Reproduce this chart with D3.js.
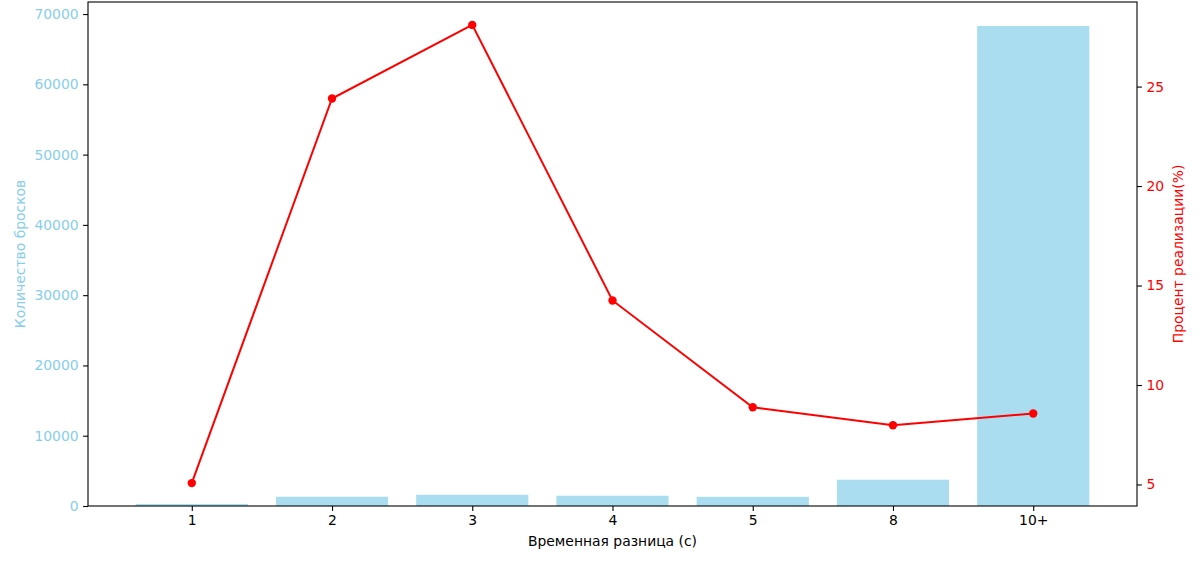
<!DOCTYPE html>
<head>
	<meta charset="utf-8">
	<script type="text/javascript" src="https://cdn.jsdelivr.net/npm/d3@7"></script>
	<style>
		body { margin: 0; background: #fff; }
		text { font-family: "DejaVu Sans", sans-serif; }
	</style>
</head>
<body>
	<script type="text/javascript">

	var categories = ['1', '2', '3', '4', '5', '8', '10+'];
	var shotCounts = [290, 1320, 1600, 1460, 1310, 3740, 68300];
	var hitPercent = [5.07, 24.4, 28.1, 14.25, 8.88, 7.98, 8.57];
	var leftTicks = [0, 10000, 20000, 30000, 40000, 50000, 60000, 70000];
	var rightTicks = [5, 10, 15, 20, 25];

	var w = 1200;
	var h = 564;
	var plotL = 88, plotR = 1137, plotT = 2, plotB = 506;

	var svg = d3.select("body")
	.append("svg")
	.attr("width", w)
	.attr("height", h);

	var xscale = d3.scaleLinear()
	.domain([-0.74, categories.length - 1 + 0.74])
	.range([plotL, plotR]);

	var yscale = d3.scaleLinear()
	.domain([0, d3.max(shotCounts) * 1.05])
	.range([plotB, plotT]);

	var pmin = d3.min(hitPercent), pmax = d3.max(hitPercent);
	var pad = (pmax - pmin) * 0.05;
	var y2scale = d3.scaleLinear()
	.domain([pmin - pad, pmax + pad])
	.range([plotB, plotT]);

	var barW = xscale(0.4) - xscale(-0.4);

	// bars
	svg.selectAll("rect.bar")
	.data(shotCounts)
	.enter()
	.append("rect")
	.attr("class", "bar")
	.attr("x", function(d, i){ return xscale(i) - barW / 2; })
	.attr("y", function(d){ return yscale(d); })
	.attr("width", barW)
	.attr("height", function(d){ return plotB - yscale(d); })
	.attr("fill", "skyblue")
	.attr("fill-opacity", 0.7);

	// axes
	var xAxis = d3.axisBottom(xscale)
	.tickValues(d3.range(categories.length))
	.tickFormat(function(i){ return categories[i]; })
	.tickSize(4.9).tickPadding(4.5);

	var gx = svg.append("g")
	.attr("transform", "translate(0," + plotB + ")")
	.call(xAxis);

	var gy = svg.append("g")
	.attr("transform", "translate(" + plotL + ",0)")
	.call(d3.axisLeft(yscale).tickValues(leftTicks).tickFormat(d3.format("d")).tickSize(4.9).tickPadding(4.5));

	var gy2 = svg.append("g")
	.attr("transform", "translate(" + plotR + ",0)")
	.call(d3.axisRight(y2scale).tickValues(rightTicks).tickSize(4.9).tickPadding(4.5));

	[gx, gy, gy2].forEach(function(g){
		g.select(".domain").remove();
		g.selectAll("line").attr("stroke", "#000").attr("stroke-width", 1.1);
		g.selectAll("text").attr("font-size", "13.9px").attr("font-family", "DejaVu Sans, sans-serif");
	});
	gx.selectAll("text").attr("fill", "#000");
	gy.selectAll("text").attr("fill", "skyblue");
	gy2.selectAll("text").attr("fill", "red");

	// frame
	svg.append("rect")
	.attr("x", plotL).attr("y", plotT)
	.attr("width", plotR - plotL).attr("height", plotB - plotT)
	.attr("fill", "none").attr("stroke", "#000").attr("stroke-width", 1.1);

	// line
	var line = d3.line()
	.x(function(d, i){ return xscale(i); })
	.y(function(d){ return y2scale(d); });

	svg.append("path")
	.datum(hitPercent)
	.attr("d", line)
	.attr("fill", "none")
	.attr("stroke", "red")
	.attr("stroke-width", 2);

	svg.selectAll("circle")
	.data(hitPercent)
	.enter()
	.append("circle")
	.attr("cx", function(d, i){ return xscale(i); })
	.attr("cy", function(d){ return y2scale(d); })
	.attr("r", 4.2)
	.attr("fill", "red");

	// labels
	svg.append("text")
	.text("Временная разница (с)")
	.attr("x", (plotL + plotR) / 2)
	.attr("y", 546)
	.attr("text-anchor", "middle")
	.attr("font-size", "13.9px")
	.attr("fill", "#000");

	svg.append("text")
	.text("Количество бросков")
	.attr("transform", "translate(25," + ((plotT + plotB) / 2) + ") rotate(-90)")
	.attr("text-anchor", "middle")
	.attr("font-size", "13.9px")
	.attr("fill", "skyblue");

	svg.append("text")
	.text("Процент реализации(%)")
	.attr("transform", "translate(1183," + ((plotT + plotB) / 2) + ") rotate(-90)")
	.attr("text-anchor", "middle")
	.attr("font-size", "13.9px")
	.attr("fill", "red");

	</script>
</body>
</html>
